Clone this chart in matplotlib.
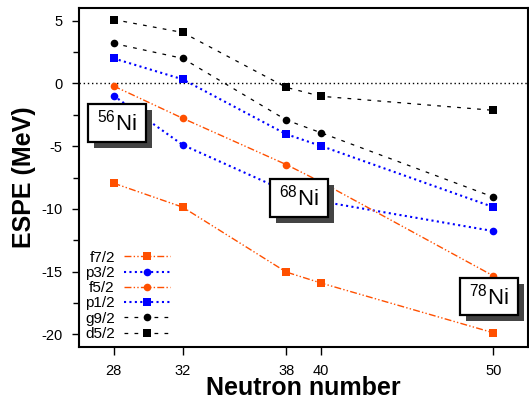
import matplotlib
matplotlib.use("Agg")
import matplotlib.pyplot as plt
from matplotlib.patches import Rectangle
import matplotlib.transforms as mtransforms

plt.rcParams['font.family'] = ['Liberation Sans', 'DejaVu Sans']
plt.rcParams['mathtext.fontset'] = 'custom'
plt.rcParams['mathtext.rm'] = 'Liberation Sans'
plt.rcParams['axes.unicode_minus'] = False

# ---- data ----
N = [28, 32, 38, 40, 50]
f7_2 = [-7.95, -9.86, -15.03, -15.9, -19.87]
p3_2 = [-0.98, -4.9, -8.6, -9.4, -11.77]
f5_2 = [-0.21, -2.78, -6.47, -7.85, -15.34]
p1_2 = [1.99, 0.32, -4.05, -4.98, -9.86]
g9_2 = [3.18, 1.99, -2.92, -3.93, -9.06]
d5_2 = [5.08, 4.05, -0.32, -1.03, -2.15]
labels = ['f7/2', 'p3/2', 'f5/2', 'p1/2', 'g9/2', 'd5/2']
xticks = [28, 32, 38, 40, 50]
yticks = [5, 0, -5, -10, -15, -20]

# nucleus label boxes: (mass number, x0, x1, y0, y1)
boxes = [
    ('56', 26.51, 29.88, -4.67, -1.65),
    ('68', 37.04, 40.40, -10.63, -7.61),
    ('78', 48.07, 51.42, -18.42, -15.50),
]

orange = '#ff5000'
blue = '#0000ff'
ddot = (0, (5, 1.6, 1, 1.6, 1, 1.6))
dot = (0, (1, 1.6))
dash = (0, (3, 5))

fig = plt.figure(figsize=(5.29, 4.01), dpi=100)
ax = fig.add_axes([79/529, 1-347/401, (528-79)/529, (347-8)/401])

ax.axhline(0, color='black', lw=1.0, linestyle=(0, (1, 2)), zorder=1)

series = [
    (f7_2, orange, ddot, 's', 1.0),
    (p3_2, blue, dot, 'o', 1.5),
    (f5_2, orange, ddot, 'o', 1.0),
    (p1_2, blue, dot, 's', 1.5),
    (g9_2, 'black', dash, 'o', 0.9),
    (d5_2, 'black', dash, 's', 0.9),
]
for (vals, c, ls, m, lw), lab in zip(series, labels):
    ax.plot(N, vals, color=c, linestyle=ls, lw=lw, marker=m,
            markersize=5.5, markeredgewidth=0,
            label=lab, zorder=2)

for num, x0, x1, y0, y1 in boxes:
    shadow_tr = mtransforms.offset_copy(ax.transData, fig=fig, x=4.5, y=-4.5, units='points')
    ax.add_patch(Rectangle((x0, y0), x1-x0, y1-y0, facecolor='#444444',
                           edgecolor='none', transform=shadow_tr, zorder=4))
    ax.add_patch(Rectangle((x0, y0), x1-x0, y1-y0, facecolor='white',
                           edgecolor='black', lw=1.6, zorder=5))
    ax.text((x0+x1)/2, (y0+y1)/2, r'$^{%s}$Ni' % num, ha='center', va='center',
            fontsize=16, zorder=6)

ax.set_xlim(26, 52)
ax.set_ylim(-21, 6)
ax.set_xticks(xticks)
ax.set_yticks(yticks)
ax.set_yticks([2.5, -2.5, -7.5, -12.5, -17.5], minor=True)
ax.tick_params(axis='y', which='both', direction='out', left=True, right=True,
               labelsize=10.5, pad=7, length=5, width=1)
ax.tick_params(axis='y', which='minor', length=4)
ax.tick_params(axis='x', direction='out', labelsize=10.5, pad=6, length=6, width=1)
for s in ax.spines.values():
    s.set_linewidth(1.5)

ax.set_xlabel('Neutron number', fontsize=18, fontweight='bold', labelpad=-1)
ax.set_ylabel('ESPE (MeV)', fontsize=18, fontweight='bold', labelpad=4)

leg = ax.legend(loc='lower left', bbox_to_anchor=(0.0, 0.0), frameon=False,
                markerfirst=False, fontsize=11, handlelength=3.0,
                handletextpad=0.6, labelspacing=0.08, borderaxespad=0.0)

fig.savefig('out.png', dpi=100)
